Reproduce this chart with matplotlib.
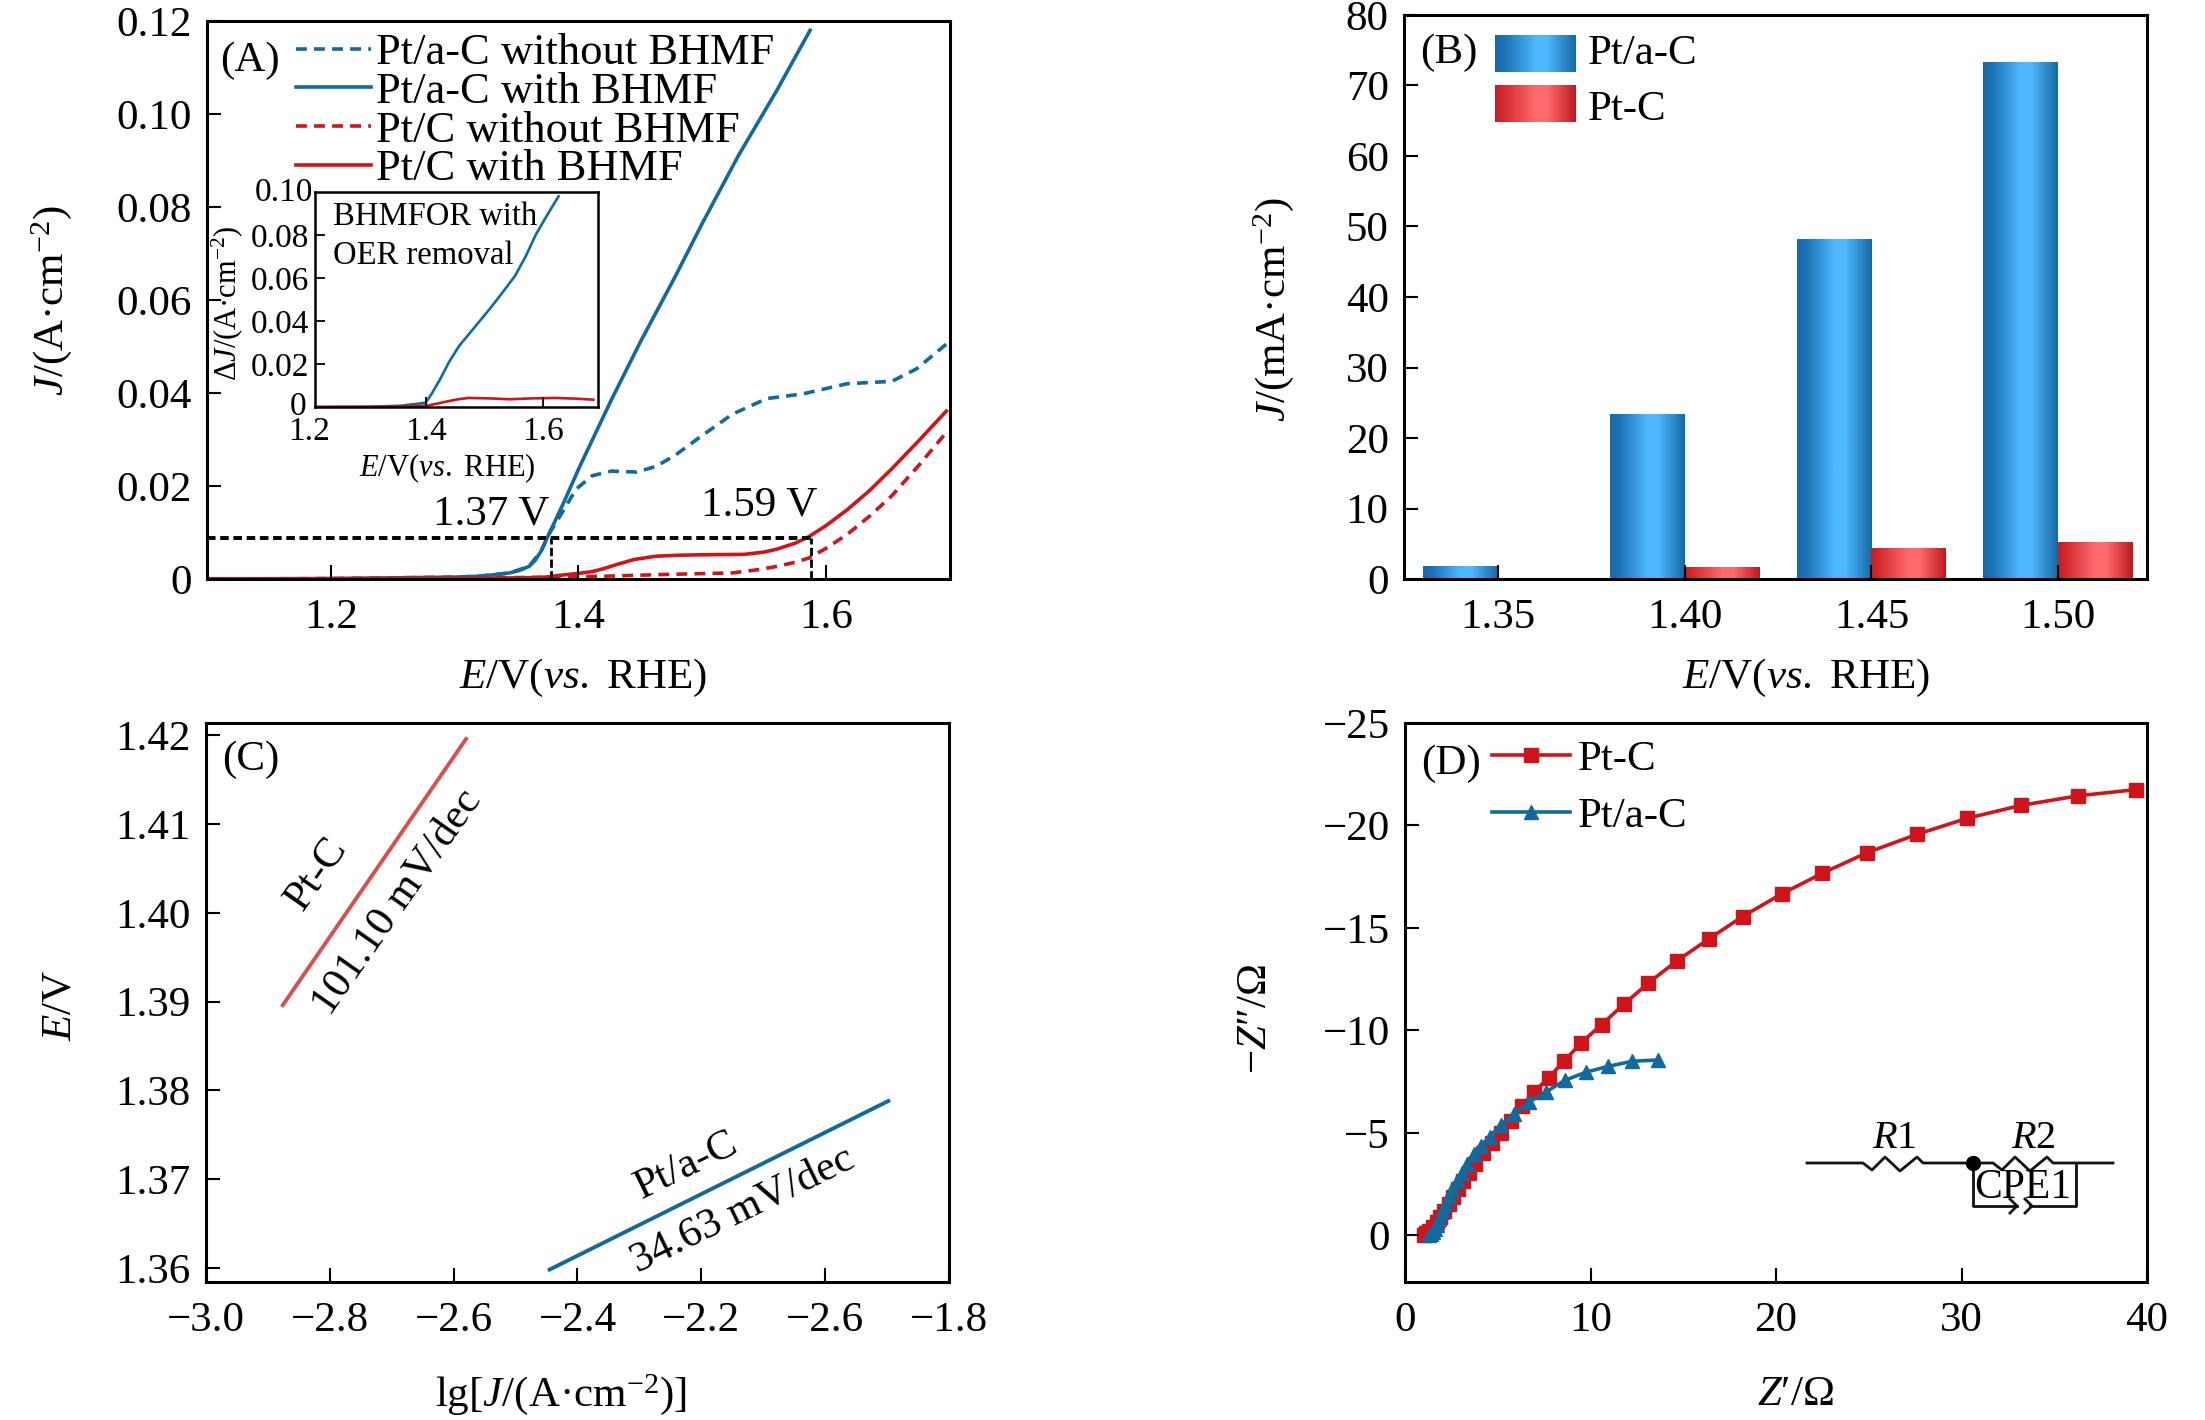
import numpy as np
import matplotlib
matplotlib.use("Agg")
import matplotlib.pyplot as plt
from matplotlib.colors import LinearSegmentedColormap
from matplotlib.lines import Line2D

plt.rcParams['font.family'] = ['Liberation Serif', 'DejaVu Serif']
plt.rcParams['mathtext.fontset'] = 'custom'
plt.rcParams['mathtext.rm'] = 'Liberation Serif'
plt.rcParams['mathtext.it'] = 'Liberation Serif:italic'
plt.rcParams['mathtext.bf'] = 'Liberation Serif:bold'
plt.rcParams['mathtext.fallback'] = 'stix'

W, H = 2205, 1420
BLUE = '#126a9c'
RED = '#d0141c'
FS = 31

# (A) LSV curves
a_solid_blue_x = [1.10, 1.20, 1.30, 1.32, 1.335, 1.344, 1.352, 1.36, 1.365, 1.37, 1.376, 1.388, 1.401, 1.4265, 1.45, 1.478, 1.50, 1.529, 1.56, 1.587]
a_solid_blue_y = [0, 0.0001, 0.0004, 0.0006, 0.001, 0.0013, 0.0018, 0.0027, 0.004, 0.0061, 0.0096, 0.0164, 0.0242, 0.0385, 0.051, 0.065, 0.0765, 0.091, 0.105, 0.118]
a_dash_blue_x = [1.10, 1.20, 1.30, 1.32, 1.344, 1.36, 1.37, 1.376, 1.385, 1.398, 1.411, 1.4265, 1.447, 1.4625, 1.478,
                 1.498, 1.524, 1.552, 1.581, 1.617, 1.653, 1.673, 1.697]
a_dash_blue_y = [0, 0.0001, 0.0004, 0.0006, 0.0013, 0.0027, 0.0061, 0.0096, 0.0135, 0.0193, 0.0222, 0.0232, 0.023, 0.0242,
                 0.0266, 0.0305, 0.0354, 0.0388, 0.0398, 0.042, 0.0425, 0.0452, 0.0505]
a_solid_red_x = [1.10, 1.30, 1.37, 1.385, 1.40, 1.411, 1.42, 1.432, 1.445, 1.4625, 1.48, 1.498, 1.534, 1.55, 1.56, 1.575, 1.586,
                 1.60, 1.617, 1.635, 1.653, 1.675, 1.697]
a_solid_red_y = [0, 0.0001, 0.0003, 0.0008, 0.0012, 0.0016, 0.0022, 0.0032, 0.0042, 0.0049, 0.0051, 0.0052, 0.0053, 0.0058, 0.0064, 0.0077, 0.0091,
                 0.0115, 0.0149, 0.019, 0.0237, 0.0298, 0.0361]
a_dash_red_x = [1.10, 1.30, 1.421, 1.473, 1.524, 1.545, 1.56, 1.575, 1.586, 1.60, 1.617, 1.635, 1.653, 1.675, 1.697]
a_dash_red_y = [0, 0.0001, 0.0006, 0.001, 0.0013, 0.002, 0.0027, 0.0036, 0.0045, 0.0066, 0.0096, 0.0135, 0.0179, 0.0245, 0.0315]
a_yticks = [0, 0.02, 0.04, 0.06, 0.08, 0.10, 0.12]
a_ylabels = ['0', '0.02', '0.04', '0.06', '0.08', '0.10', '0.12']
a_guide_y = 0.0088
a_guide_x = [1.378, 1.588]

# inset of (A)
in_blue_x = [1.21, 1.30, 1.359, 1.40, 1.41, 1.424, 1.44, 1.457, 1.48, 1.511, 1.53, 1.552, 1.57, 1.587, 1.606, 1.626]
in_blue_y = [0, 0.0001, 0.0006, 0.002, 0.006, 0.0126, 0.021, 0.0284, 0.036, 0.0463, 0.053, 0.061, 0.07, 0.08, 0.089, 0.098]
in_red_x = [1.21, 1.35, 1.402, 1.42, 1.435, 1.455, 1.473, 1.51, 1.543, 1.58, 1.62, 1.655, 1.685]
in_red_y = [0, 0.0001, 0.0006, 0.0016, 0.0025, 0.0036, 0.0042, 0.004, 0.0036, 0.004, 0.0042, 0.0039, 0.0034]

# (B) bars
b_cats = ['1.35', '1.40', '1.45', '1.50']
b_pta = [1.8, 23.3, 48.2, 73.2]
b_ptc = [0, 1.6, 4.3, 5.2]

# (C) Tafel lines
c_ptc_x = [-2.876, -2.58]
c_ptc_y = [1.3896, 1.4196]
c_pta_x = [-2.445, -1.898]
c_pta_y = [1.3598, 1.3788]
c_xticks = [-3.0, -2.8, -2.6, -2.4, -2.2, -2.0, -1.8]
c_xlabels = ['\u22123.0', '\u22122.8', '\u22122.6', '\u22122.4', '\u22122.2', '\u22122.6', '\u22121.8']
c_yticks = [1.36, 1.37, 1.38, 1.39, 1.40, 1.41, 1.42]

# (D) Nyquist
d_ptc_x = [1.05, 1.15, 1.3, 1.5, 1.7, 1.9, 2.1, 2.35, 2.6, 2.85, 3.15, 3.45, 3.8, 4.2, 4.7, 5.15, 5.7, 6.3,
           6.94, 7.74, 8.57, 9.5, 10.6, 11.8, 13.1, 14.65, 16.4, 18.2, 20.3, 22.5, 24.9, 27.6, 30.3, 33.2, 36.3, 39.4]
d_ptc_y = [-0.02, -0.1, -0.2, -0.4, -0.65, -0.9, -1.2, -1.55, -1.9, -2.25, -2.65, -3.05, -3.5, -4.0, -4.5, -5.0, -5.6, -6.3,
           -6.99, -7.7, -8.5, -9.4, -10.29, -11.28, -12.3, -13.39, -14.48, -15.56, -16.66, -17.67, -18.67, -19.57, -20.35, -20.98, -21.45, -21.75]
d_pta_x = [1.3, 1.4, 1.5, 1.6, 1.7, 1.85, 2.0, 2.15, 2.35, 2.55, 2.8, 3.05, 3.35, 3.7, 4.08, 4.56, 5.15, 5.87,
           6.67, 7.6, 8.6, 9.74, 10.95, 12.26, 13.65]
d_pta_y = [0, -0.05, -0.15, -0.3, -0.5, -0.8, -1.15, -1.5, -1.9, -2.25, -2.65, -3.05, -3.5, -3.95, -4.37, -4.82, -5.38, -5.94,
           -6.5, -7.0, -7.56, -7.96, -8.25, -8.5, -8.56]
d_yticks = [0, -5, -10, -15, -20, -25]
d_ylabels = ['0', '\u22125', '\u221210', '\u221215', '\u221220', '\u221225']

fig = plt.figure(figsize=(W / 100, H / 100), dpi=100)


def fx(px):
    return px / W


def fy(py):
    return 1 - py / H


def make_axes(left, right, top, bottom):
    ax = fig.add_axes([fx(left), fy(bottom), (right - left) / W, (bottom - top) / H])
    ax.tick_params(direction='in', length=10, width=1.5, labelsize=FS, pad=11)
    ax.tick_params(axis='x', pad=14)
    for s in ax.spines.values():
        s.set_linewidth(2.2)
    ax.set_axisbelow(False)
    return ax


def set_labels(ax, xlabel, xpos, ylabel, ypos, size=FS):
    ax.set_xlabel(xlabel, fontsize=size, va='center', ha='center')
    ax.set_ylabel(ylabel, fontsize=size, va='center', ha='center')
    ax.xaxis.set_label_coords(fx(xpos[0]), fy(xpos[1]), transform=fig.transFigure)
    ax.yaxis.set_label_coords(fx(ypos[0]), fy(ypos[1]), transform=fig.transFigure)


def ftext(px, py, s, size=FS, rot=0, ha='center'):
    fig.text(fx(px), fy(py), s, fontsize=size, rotation=rot, ha=ha, va='center',
             rotation_mode='anchor', zorder=10)


E_LABEL = '$E$/V($vs.$ RHE)'
DASH = (0, (3, 2))

# panel A
ax_a = make_axes(207, 950, 21, 579)
ax_a.plot(a_dash_blue_x, a_dash_blue_y, color=BLUE, lw=2.6, ls=DASH, label='Pt/a-C without BHMF')
ax_a.plot(a_solid_blue_x, a_solid_blue_y, color=BLUE, lw=2.6, label='Pt/a-C with BHMF')
ax_a.plot(a_dash_red_x, a_dash_red_y, color=RED, lw=2.6, ls=DASH, label='Pt/C without BHMF')
ax_a.plot(a_solid_red_x, a_solid_red_y, color=RED, lw=2.6, label='Pt/C with BHMF')
ax_a.plot([1.10, a_guide_x[1]], [a_guide_y, a_guide_y], color='black', lw=2.8, ls=(0, (2.2, 1.2)))
for gx in a_guide_x:
    ax_a.plot([gx, gx], [0, a_guide_y], color='black', lw=2.0, ls=(0, (3, 1.2)))
ax_a.set_xlim(1.1, 1.7)
ax_a.set_ylim(0, 0.12)
ax_a.set_xticks([1.2, 1.4, 1.6])
ax_a.set_xticklabels(['1.2', '1.4', '1.6'])
ax_a.set_yticks(a_yticks)
ax_a.set_yticklabels(a_ylabels)
set_labels(ax_a, E_LABEL, (583, 678), '$J$/(A\u00b7cm$^{-2}$)', (52, 301))
ax_a.legend(loc='upper left', bbox_to_anchor=(fx(296), fy(33)), bbox_transform=fig.transFigure,
            frameon=False, fontsize=FS + 1, handlelength=1.68, handletextpad=0.12, labelspacing=-0.03,
            borderpad=0, borderaxespad=0)
ftext(250, 61, '(A)')
ftext(491, 514, '1.37 V')
ftext(759, 505, '1.59 V')

# inset of A
ax_in = make_axes(315, 598, 192, 407)
ax_in.tick_params(labelsize=24, length=7, width=1.3, pad=4)
ax_in.tick_params(axis='x', pad=7)
for s in ax_in.spines.values():
    s.set_linewidth(1.8)
ax_in.plot(in_blue_x, in_blue_y, color=BLUE, lw=1.9)
ax_in.plot(in_red_x, in_red_y, color=RED, lw=1.9)
ax_in.set_xlim(1.212, 1.693)
ax_in.set_ylim(0, 0.10)
ax_in.set_xticks([1.4, 1.6])
ax_in.set_xticklabels(['1.4', '1.6'])
ax_in.set_yticks([0.02, 0.04, 0.06, 0.08])
ax_in.set_yticklabels(['0.02', '0.04', '0.06', '0.08'])
set_labels(ax_in, E_LABEL, (447, 468), '\u0394$J$/(A\u00b7cm$^{-2}$)', (227, 303), size=22)
ftext(309, 432, '1.2', size=24)
ftext(284, 193, '0.10', size=24)
ftext(298, 407, '0', size=24)
ftext(333, 217, 'BHMFOR with', size=23.5, ha='left')
ftext(333, 256, 'OER removal', size=23.5, ha='left')

# panel B
ax_b = make_axes(1404, 2147, 15, 579)
blue_map = LinearSegmentedColormap.from_list('b', [(0, '#176aa8'), (0.12, '#1c72b4'), (0.5, '#4db8ff'), (0.65, '#4db8ff'), (1, '#1668a4')])
red_map = LinearSegmentedColormap.from_list('r', [(0, '#c41c22'), (0.1, '#d42a2e'), (0.5, '#ff6a6e'), (0.65, '#ff6a6e'), (1, '#bd1a20')])
grad = np.linspace(0, 1, 128).reshape(1, -1)
pos = np.arange(len(b_cats))
for vals, off, cmap, col in [(b_pta, -0.2, blue_map, '#4db8ff'), (b_ptc, 0.2, red_map, '#ff6a6e')]:
    bars = ax_b.bar(pos + off, vals, width=0.4, color=col, linewidth=0)
    for r in bars:
        if r.get_height() > 0:
            ax_b.imshow(grad, aspect='auto', cmap=cmap, zorder=2,
                        extent=(r.get_x(), r.get_x() + r.get_width(), 0, r.get_height()))
for ytop, cmap in [(35, blue_map), (85, red_map)]:
    ax_b.imshow(grad, aspect='auto', cmap=cmap, zorder=3, transform=fig.transFigure,
                extent=(fx(1495), fx(1576), fy(ytop + 37), fy(ytop)))
ax_b.set_xlim(-0.503, 3.476)
ax_b.set_ylim(0, 80)
ax_b.set_xticks(pos)
ax_b.set_xticklabels(b_cats)
ax_b.set_yticks(np.arange(0, 81, 10))
set_labels(ax_b, E_LABEL, (1806, 678), '$J$/(mA\u00b7cm$^{-2}$)', (1274, 310))
ftext(1449, 53, '(B)')
ftext(1588, 54, 'Pt/a-C', ha='left')
ftext(1588, 110, 'Pt-C', ha='left')

# panel C
ax_c = make_axes(206, 949, 723, 1282)
ax_c.plot(c_ptc_x, c_ptc_y, color='#d8504e', lw=2.8)
ax_c.plot(c_pta_x, c_pta_y, color=BLUE, lw=2.8)
ax_c.set_xlim(-3.0, -1.8)
ax_c.set_ylim(1.3584, 1.4214)
ax_c.set_xticks(c_xticks)
ax_c.set_xticklabels(c_xlabels)
ax_c.set_yticks(c_yticks)
ax_c.set_yticklabels(['%.2f' % v for v in c_yticks])
set_labels(ax_c, 'lg[$J$/(A\u00b7cm$^{-2}$)]', (561, 1395), '$E$/V', (60, 1005))
ftext(251, 760, '(C)')
ftext(317, 874, 'Pt-C', rot=55)
ftext(397, 902, '101.10 mV/dec', rot=55)
ftext(687, 1166, 'Pt/a-C', rot=26)
ftext(743, 1210, '34.63 mV/dec', rot=26)

# panel D
ax_d = make_axes(1405, 2147, 723, 1282)
ax_d.plot(d_ptc_x, d_ptc_y, color=RED, lw=2.6, marker='s', ms=9.5, label='Pt-C')
ax_d.plot(d_pta_x, d_pta_y, color=BLUE, lw=2.6, marker='^', ms=10.5, label='Pt/a-C')
ax_d.set_xlim(0, 40)
ax_d.set_ylim(2.27, -25)
ax_d.set_xticks([0, 10, 20, 30, 40])
ax_d.set_yticks(d_yticks)
ax_d.set_yticklabels(d_ylabels)
set_labels(ax_d, "$Z$\u2032/\u03a9", (1796, 1395), "\u2212$Z$\u2033/\u03a9", (1256, 1019))
ax_d.legend(loc='upper left', bbox_to_anchor=(fx(1492), fy(740)), bbox_transform=fig.transFigure,
            frameon=False, fontsize=FS, handlelength=1.8, handletextpad=0.2, labelspacing=0.42,
            borderpad=0, borderaxespad=0)
ftext(1451, 764, '(D)')

# equivalent circuit inset in D, figure pixels
wire_x = [1807, 1863, 1872, 1885, 1900, 1917, 1923, 1993, 2002, 2015, 2030, 2047, 2053, 2113]
wire_y = [1163, 1163, 1170, 1157, 1171, 1157, 1163, 1163, 1170, 1157, 1171, 1157, 1163, 1163]
cpe_x = [1973, 1973, 2017, None, 2030, 2076, 2076]
cpe_y = [1163, 1206, 1206, None, 1206, 1206, 1163]
for xs, ys, lw in [(wire_x, wire_y, 2), (cpe_x, cpe_y, 2),
                   ([2010, 2017, 2010], [1199, 1206, 1213], 2),
                   ([2025, 2032, 2025], [1199, 1206, 1213], 2)]:
    pts_x = [np.nan if v is None else fx(v) for v in xs]
    pts_y = [np.nan if v is None else fy(v) for v in ys]
    fig.add_artist(Line2D(pts_x, pts_y, color='#111111', lw=lw, transform=fig.transFigure))
fig.add_artist(Line2D([fx(1973)], [fy(1163)], marker='o', ms=10, color='black', transform=fig.transFigure))
ftext(1894, 1139, '$R$1', size=29)
ftext(2033, 1139, '$R$2', size=29)
ftext(2023, 1188, 'CPE1', size=30)

fig.savefig('out.png', dpi=100)
